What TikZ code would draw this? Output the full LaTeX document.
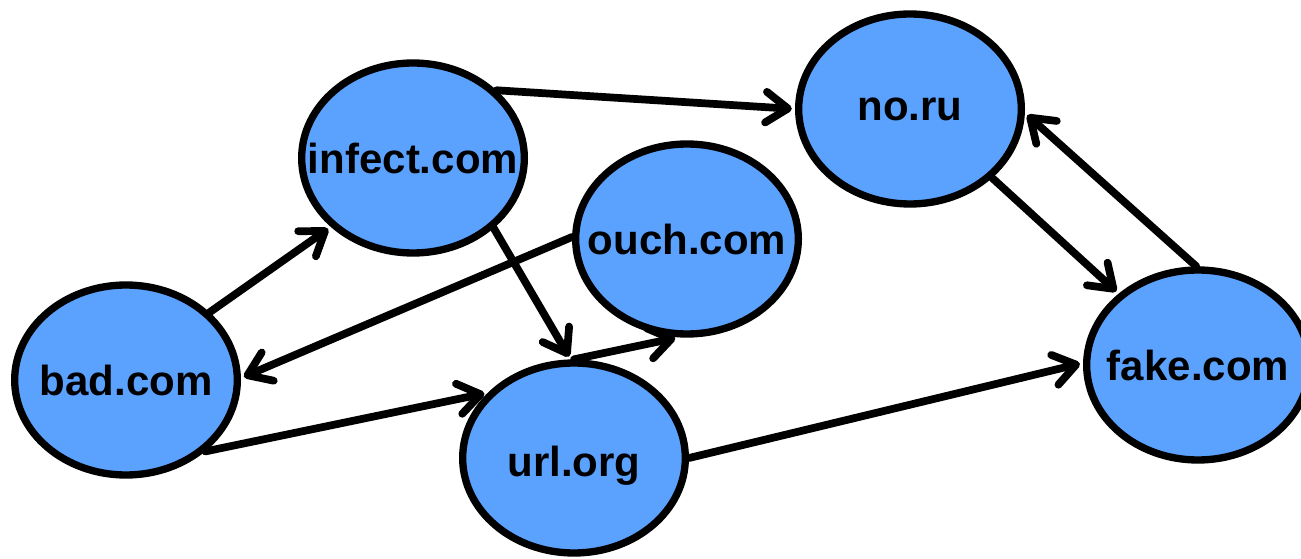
\documentclass[tikz,border=0pt]{standalone}
\usepackage{fontspec}
\setmainfont{Liberation Sans}
\usetikzlibrary{shapes.geometric,arrows.meta}
\definecolor{domblue}{RGB}{91,162,255}
\tikzset{
  dom/.style={ellipse, draw=black, fill=domblue, line width=5.5pt,
    minimum width=167pt, minimum height=142.5pt, inner sep=0pt},
  domtext/.style={font=\fontsize{31.5pt}{36pt}\selectfont\bfseries, inner sep=0pt},
  link/.style={line width=5.8pt, line cap=round,
    -{Straight Barb[length=16.5pt,width=23pt,round]}, shorten >=2.4pt}
}
\begin{document}
\begin{tikzpicture}[x=0.75pt,y=-0.75pt]
\useasboundingbox (0,0) rectangle (1301,559);
\clip (0,0) rectangle (1301,559);
\node[dom] (bad) at (126,380) {};
\node[dom] (infect) at (413,158) {};
\node[dom] (ouch) at (687,239) {};
\node[dom] (url) at (574,458) {};
\node[dom] (noru) at (910,109) {};
\node[dom] (fake) at (1198,365) {};
\node[domtext] (tbad) at (bad) {bad.com};
\node[domtext] (tinfect) at (infect) {infect.com};
\node[domtext] (touch) at (ouch) {ouch.com};
\node[domtext,yshift=-6pt] (turl) at (url) {url.org};
\node[domtext] (tnoru) at (noru) {no.ru};
\node[domtext] (tfake) at (fake) {fake.com};
\draw[link] (bad.39.6) -- (infect.220.4);
\draw[link] (infect.39) -- (noru.180.5);
\draw[link] (infect.319.4) -- (url.92.3);
\draw[link] (url.90.6) -- (ouch.265);
\draw[link] (ouch.179) -- (bad.1);
\draw[link] (bad.318.4) -- (url.143.1);
\draw[link] (url.0.5) -- (fake.179);
\draw[link] (noru.320.3) -- (fake.138.7);
\draw[link] (fake.91.7) -- (noru.358.5);
\end{tikzpicture}
\end{document}
